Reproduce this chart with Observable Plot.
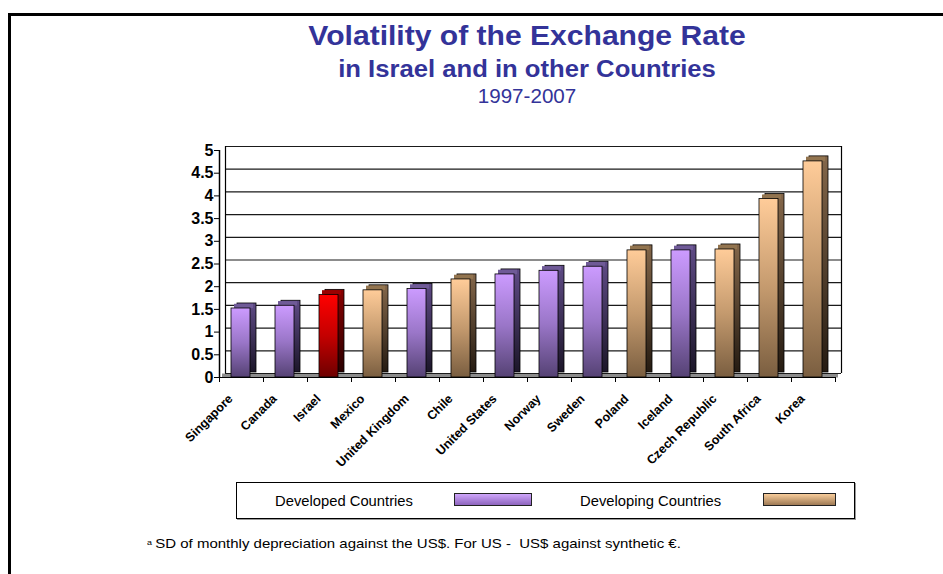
<!DOCTYPE html>
<html><head><meta charset="utf-8">
<script src="https://cdn.jsdelivr.net/npm/d3@7"></script>
<script src="https://cdn.jsdelivr.net/npm/@observablehq/plot@0.6"></script>
<style>
html,body{margin:0;padding:0;background:#fff;width:943px;height:574px;overflow:hidden;font-family:Arial,"Liberation Sans",sans-serif;}
#page{position:relative;width:943px;height:574px;}
#frame{position:absolute;left:8px;top:13px;width:940px;height:570px;border-left:3px solid #000;border-top:3px solid #000;}
.t{position:absolute;left:0;width:1054px;text-align:center;color:#333399;white-space:nowrap;line-height:1;transform-origin:527px 50%;}
#chart{position:absolute;left:0;top:130px;}
#legend{position:absolute;left:236px;top:482px;width:617px;height:35px;border:1px solid #000;box-shadow:1px 1px 0 #999;}
.lt{position:absolute;font-size:14px;line-height:1;top:11px;color:#000;white-space:nowrap;transform:scaleX(1.055);transform-origin:0 50%;}
.sw{position:absolute;top:10px;height:11px;border:1px solid #222;}
#foot{position:absolute;left:147px;top:537px;font-size:13.5px;line-height:1;white-space:nowrap;color:#000;transform:scaleX(1.11);transform-origin:0 50%;}
#foot sup{font-size:8px;vertical-align:3px;margin-right:3px;}
</style></head>
<body><div id="page">
<div id="frame"></div>
<div class="t" style="top:22px;font-size:28px;font-weight:bold;transform:scaleX(1.074);">Volatility of the Exchange Rate</div>
<div class="t" style="top:58px;font-size:23px;font-weight:bold;transform:scaleX(1.115);">in Israel and in other Countries</div>
<div class="t" style="top:86px;font-size:20px;transform:scaleX(1.03);">1997-2007</div>
<div id="chart"></div>
<div id="legend">
  <span class="lt" style="left:38px;">Developed Countries</span>
  <span class="sw" style="left:217px;width:76px;background:linear-gradient(#cfa6fb,#8d64bd);"></span>
  <span class="lt" style="left:343px;">Developing Countries</span>
  <span class="sw" style="left:526px;width:71px;background:linear-gradient(#f8cc9a,#9e7a55);"></span>
</div>
<div id="foot"><sup>a</sup>SD of monthly depreciation against the US$. For US -&nbsp; US$ against synthetic €.</div>
</div>
<script>
const countries = ["Singapore","Canada","Israel","Mexico","United Kingdom","Chile","United States","Norway","Sweden","Poland","Iceland","Czech Republic","South Africa","Korea"];
const values = [1.52,1.58,1.82,1.92,1.95,2.16,2.27,2.35,2.44,2.80,2.80,2.82,3.93,4.76];
const groups = ["Developed","Developed","Israel","Developing","Developed","Developing","Developed","Developed","Developed","Developing","Developed","Developing","Developing","Developing"];
const yTicks = [0,0.5,1,1.5,2,2.5,3,3.5,4,4.5,5];

const data = countries.map((c,i)=>({country:c, value:values[i], group:groups[i]}));
const ids = {Developed:"dev", Developing:"dvg", Israel:"isr"};
const topCol = {Developed:"#6f5a97", Developing:"#92744f", Israel:"#9a0000"};
const inL = 12, inR = 13;

function bars(g){
  const d = data.filter(r=>r.group===g);
  const id = ids[g];
  return [
    Plot.barY(d,{x:"country",y:"value",insetLeft:inL,insetRight:inR,dx:6,dy:-5,fill:`url(#${id}side)`,stroke:"#000",strokeWidth:0.8}),
    Plot.tickY(d,{x:"country",y:"value",insetLeft:inL,insetRight:inR,dx:3,dy:-2.5,stroke:topCol[g],strokeWidth:4.4}),
    Plot.barY(d,{x:"country",y:"value",insetLeft:inL,insetRight:inR,fill:`url(#${id}front)`,stroke:"#000",strokeWidth:0.8})
  ];
}

const chart = Plot.plot({
  width:943, height:350,
  marginTop:20, marginBottom:103, marginLeft:219, marginRight:108,
  style:{fontFamily:'Arial,"Liberation Sans",sans-serif', color:"#000", background:"transparent", overflow:"visible"},
  x:{domain:countries, padding:0, axis:null},
  y:{domain:[0,5], axis:null},
  marks:[
    Plot.ruleY([0],{stroke:"#8c8c8c",strokeWidth:4,dy:-2,dx:3}),
    Plot.ruleY(yTicks,{dx:6,dy:-4,stroke:"#1a1a1a",strokeWidth:1.2}),
    Plot.ruleX([countries[0]],{dx:-16,dy:-4,stroke:"#000",strokeWidth:1.2}),
    Plot.ruleX([countries[countries.length-1]],{dx:28,dy:-4,stroke:"#000",strokeWidth:1.2}),
    Plot.ruleY([0],{stroke:"#000",strokeWidth:1.2}),
    ...bars("Developed"), ...bars("Developing"), ...bars("Israel"),
    Plot.ruleX([countries[0]],{dx:-22,stroke:"#000",strokeWidth:1.5}),
    Plot.axisY({ticks:yTicks, tickFormat:d=>String(d), tickSize:5, tickPadding:1, fontSize:16, fontWeight:"bold", label:null}),
    Plot.axisX({ticks:countries, tickFormat:()=>"", tickSize:5, label:null, dx:-22}),
    Plot.axisX({ticks:[countries[countries.length-1]], tickFormat:()=>"", tickSize:5, label:null, dx:22}),
    Plot.text(countries,{x:d=>d, frameAnchor:"bottom", rotate:-45, textAnchor:"end", dx:-8, dy:22, fontSize:12.5, fontWeight:"bold", fill:"#000"})
  ]
});

d3.select(chart).insert("defs",":first-child").html(`
<linearGradient id="devfront" x1="0" y1="0" x2="0" y2="1"><stop offset="0" stop-color="#cc9bff"/><stop offset="0.5" stop-color="#9a76c8"/><stop offset="1" stop-color="#554274"/></linearGradient>
<linearGradient id="devside" x1="0" y1="0" x2="0" y2="1"><stop offset="0" stop-color="#5f4b86"/><stop offset="1" stop-color="#1c1629"/></linearGradient>
<linearGradient id="dvgfront" x1="0" y1="0" x2="0" y2="1"><stop offset="0" stop-color="#ffcc99"/><stop offset="0.5" stop-color="#c49a6e"/><stop offset="1" stop-color="#7a5e40"/></linearGradient>
<linearGradient id="dvgside" x1="0" y1="0" x2="0" y2="1"><stop offset="0" stop-color="#84674a"/><stop offset="1" stop-color="#251b12"/></linearGradient>
<linearGradient id="isrfront" x1="0" y1="0" x2="0" y2="1"><stop offset="0" stop-color="#ff0000"/><stop offset="0.5" stop-color="#c40000"/><stop offset="1" stop-color="#6e0000"/></linearGradient>
<linearGradient id="isrside" x1="0" y1="0" x2="0" y2="1"><stop offset="0" stop-color="#880000"/><stop offset="1" stop-color="#2a0000"/></linearGradient>
`);
document.getElementById("chart").appendChild(chart);
</script>
</body></html>
